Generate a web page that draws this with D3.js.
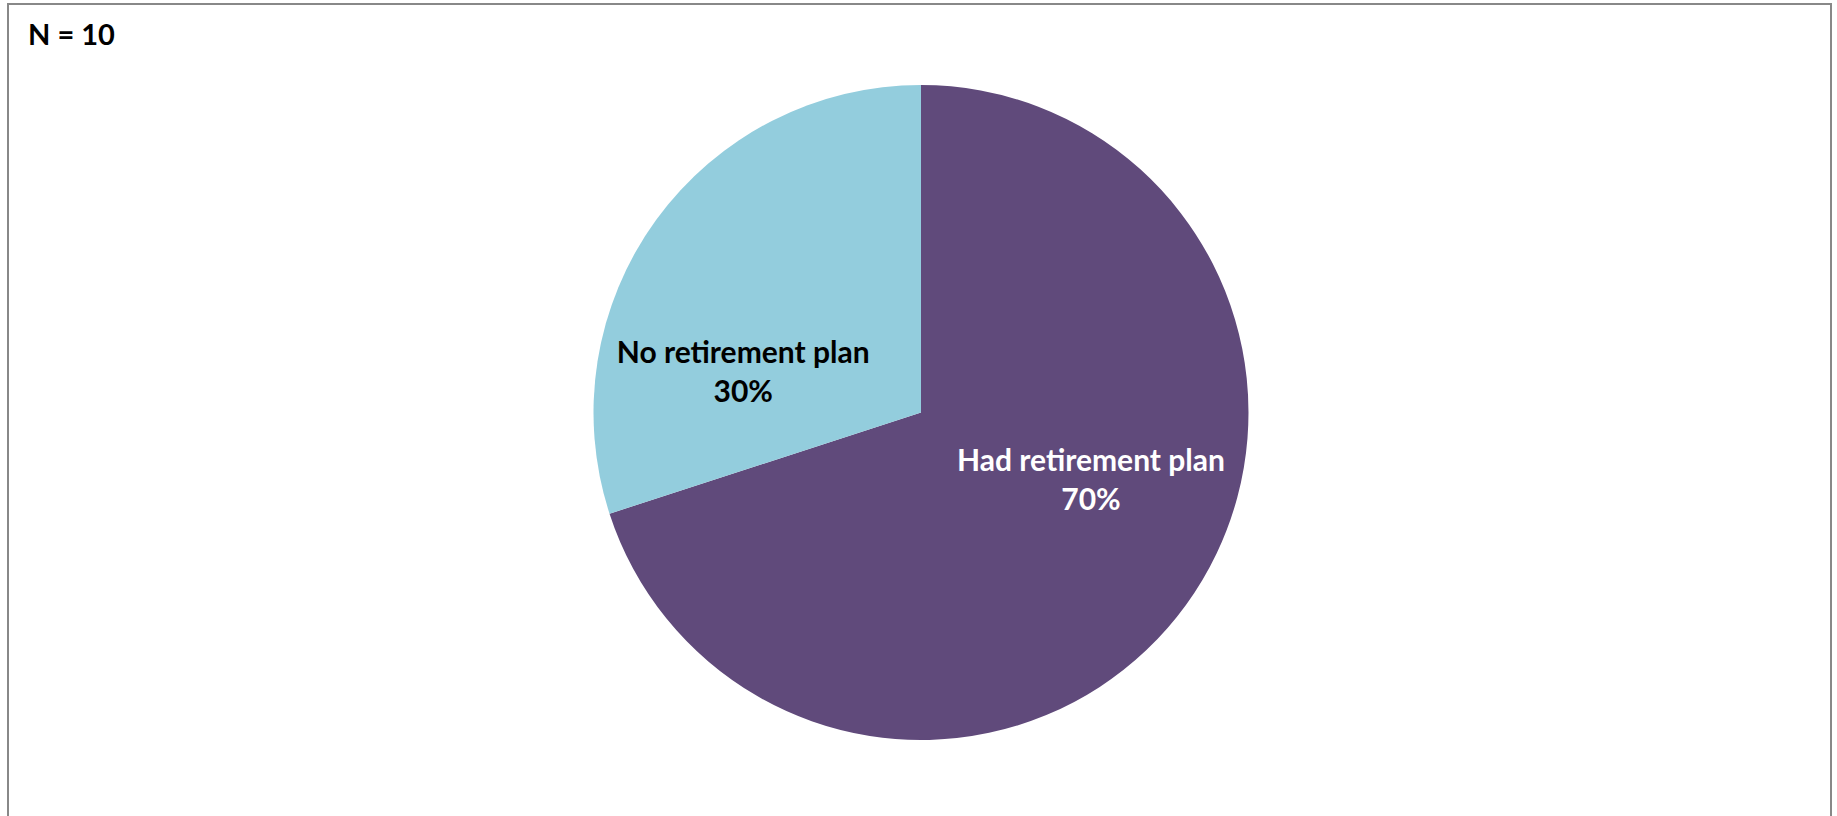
<!DOCTYPE html>
<html>
<head>
<meta charset="utf-8">
<script src="https://cdn.jsdelivr.net/npm/d3@7"></script>
<style>
  html, body { margin: 0; padding: 0; background: #fff; }
  svg { display: block; }
  text { font-family: Lato, "Open Sans", sans-serif; font-weight: bold; }
</style>
</head>
<body>
<svg id="chart" width="1837" height="816"></svg>
<script>
const categories = ["Had retirement plan", "No retirement plan"];
const values = [70, 30];
const labels = ["70%", "30%"];
const colors = ["#604A7B", "#93CDDD"];
const labelColors = ["#ffffff", "#000000"];
const noteText = "N = 10";

const W = 1837, H = 816;
const svg = d3.select("#chart");

// chart border
svg.append("rect")
  .attr("x", 8).attr("y", 4)
  .attr("width", 1823).attr("height", 830)
  .attr("fill", "#fff")
  .attr("stroke", "#888").attr("stroke-width", 2);

svg.append("text")
  .attr("x", 28).attr("y", 45)
  .attr("font-size", 29)
  .attr("fill", "#000")
  .text(noteText);

const cx = 921, cy = 412.5, R = 327.5;
const g = svg.append("g").attr("transform", `translate(${cx},${cy})`);

const data = categories.map((c, i) => ({ cat: c, value: values[i], label: labels[i], color: colors[i], lc: labelColors[i] }));
const pie = d3.pie().sort(null).value(d => d.value);
const arc = d3.arc().innerRadius(0).outerRadius(R);
const arcs = pie(data);

g.selectAll("path.slice")
  .data(arcs)
  .enter().append("path")
  .attr("class", "slice")
  .attr("d", arc)
  .attr("fill", d => d.data.color);

// label offsets (relative to radius), emulating Excel's best-fit placement
const labelPos = [[0.519, 0.188], [-0.543, -0.143]];
const lab = g.selectAll("g.lab")
  .data(arcs)
  .enter().append("g")
  .attr("class", "lab")
  .attr("transform", (d, i) => `translate(${labelPos[i][0] * R},${labelPos[i][1] * R})`);

lab.append("text")
  .attr("text-anchor", "middle")
  .attr("y", -3)
  .attr("font-size", 30)
  .attr("fill", d => d.data.lc)
  .text(d => d.data.cat);
lab.append("text")
  .attr("text-anchor", "middle")
  .attr("y", 36)
  .attr("font-size", 30)
  .attr("fill", d => d.data.lc)
  .text(d => d.data.label);
</script>
</body>
</html>
